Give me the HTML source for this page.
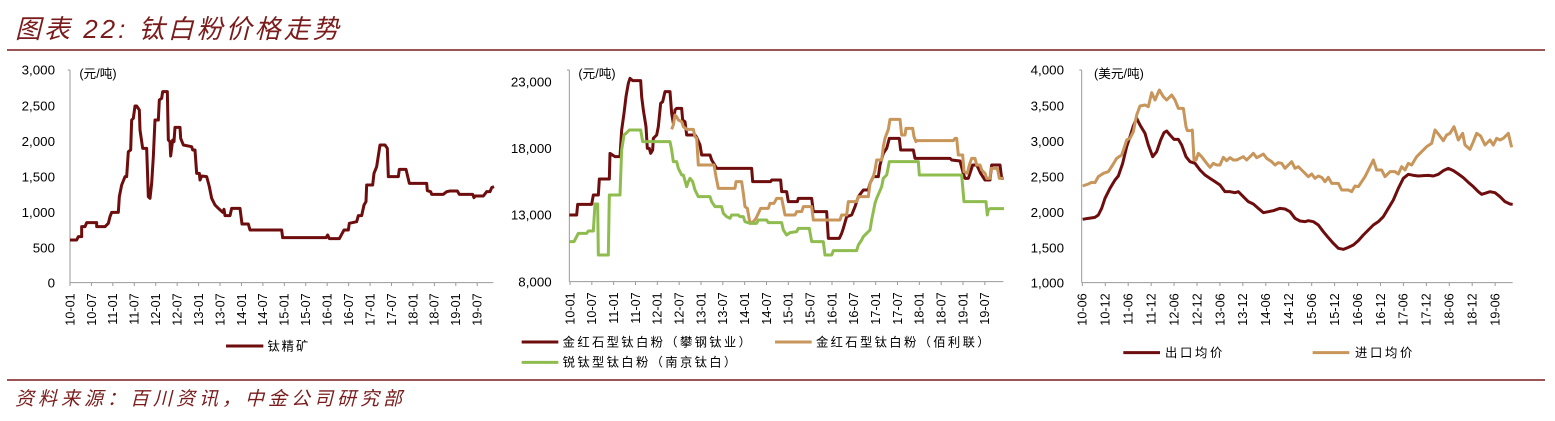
<!DOCTYPE html>
<html><head><meta charset="utf-8"><style>
html,body{margin:0;padding:0;background:#fff;}
svg{display:block;}
.t{font-family:"Liberation Sans","Noto Sans CJK SC",sans-serif;}
</style></head><body>
<svg id="s" width="1555" height="421" viewBox="0 0 1555 421" xmlns="http://www.w3.org/2000/svg">
<text x="15" y="38" font-size="26" font-style="italic" fill="#7b1c1c" class="t" letter-spacing="3">图表 22:  钛白粉价格走势</text>
<line x1="7" y1="50" x2="1545" y2="50" stroke="#7b1c1c" stroke-width="1.5"/>
<line x1="7" y1="380" x2="1545" y2="380" stroke="#7b1c1c" stroke-width="1.5"/>
<text x="15" y="405" font-size="19" font-style="italic" fill="#7b1c1c" class="t" letter-spacing="4">资料来源：百川资讯，中金公司研究部</text>

<g id="c1" transform="translate(0,50) scale(0.33333)"></g>
<g id="c2" transform="translate(510,50) scale(0.33333)"></g>
<g id="c3" transform="translate(1030,50) scale(0.33333)"></g>
</svg>
<script>
var NS="http://www.w3.org/2000/svg";
function el(g,tag,a,txt){var e=document.createElementNS(NS,tag);for(var k in a)e.setAttribute(k,a[k]);if(txt!==undefined)e.textContent=txt;g.appendChild(e);return e;}
function path(g,pts,col){var d="M"+pts.map(function(p){return p[0]+","+p[1]}).join(" L");el(g,"path",{d:d,fill:"none",stroke:col,"stroke-width":9,"stroke-linejoin":"round"});}
function axes(g,ax,x0,x1,ytop,ybot,ylabels,labx,t0,tstep,xlabels,unit,unitx){
 el(g,"line",{x1:ax,y1:ytop,x2:ax,y2:ybot,stroke:"#999","stroke-width":3});
 el(g,"line",{x1:ax,y1:ybot,x2:x1,y2:ybot,stroke:"#999","stroke-width":3});
 el(g,"line",{x1:ax-7,y1:ytop,x2:ax,y2:ytop,stroke:"#999","stroke-width":3});
 ylabels.forEach(function(l){el(g,"text",{x:labx,y:l[1]+14,"font-size":40,"text-anchor":"end","class":"t",fill:"#000"},l[0]);});
 xlabels.forEach(function(s,i){var x=t0+i*tstep;
  el(g,"line",{x1:x,y1:ybot,x2:x,y2:ybot+10,stroke:"#999","stroke-width":3});
  el(g,"text",{transform:"translate("+(x+13)+","+(ybot+32)+") rotate(-90)","font-size":38,"text-anchor":"end","class":"t",fill:"#000"},s);});
 el(g,"text",{x:unitx,y:ytop+24,"font-size":38,"class":"t",fill:"#000"},unit);
}
var DR="#6e0d0d",OR="#c8955a",GR="#8fbc4f";
var g1=document.getElementById("c1"),g2=document.getElementById("c2"),g3=document.getElementById("c3");
var xl1=[];for(var y=10;y<=19;y++){xl1.push(y+"-01");xl1.push(y+"-07");}
axes(g1,210,210,1480,60,698,[["3,000",60],["2,500",167],["2,000",274],["1,500",380],["1,000",487],["500",593],["0",698]],165,210,64.3,xl1,"(元/吨)",238);
path(g1,[[210,570],[230,570],[235,560],[245,560],[245,530],[255,530],[260,518],[290,518],[290,530],[315,530],[325,520],[330,500],[335,487],[355,487],[358,440],[365,405],[375,380],[380,380],[385,305],[392,300],[395,210],[400,205],[405,168],[410,168],[418,180],[420,240],[428,295],[440,295],[445,440],[450,445],[455,400],[460,320],[465,210],[475,210],[478,150],[485,145],[488,125],[502,125],[505,270],[510,275],[512,318],[518,270],[522,275],[525,232],[540,232],[542,265],[550,285],[575,290],[578,300],[585,300],[590,370],[598,370],[600,390],[605,378],[620,380],[628,410],[635,445],[645,465],[655,475],[668,487],[672,478],[675,497],[690,497],[695,475],[720,475],[726,522],[745,522],[750,540],[845,540],[848,563],[978,563],[983,555],[988,566],[1018,566],[1025,553],[1032,540],[1045,540],[1048,520],[1070,515],[1075,497],[1085,497],[1092,465],[1098,455],[1100,405],[1118,405],[1122,370],[1130,350],[1140,285],[1155,285],[1162,295],[1165,380],[1195,380],[1198,358],[1218,358],[1228,400],[1280,400],[1282,422],[1292,425],[1295,433],[1330,433],[1340,425],[1350,423],[1372,423],[1378,433],[1418,433],[1422,443],[1425,438],[1450,438],[1460,425],[1470,425],[1475,413],[1482,410]],DR);
el(g1,"line",{x1:678,y1:888,x2:790,y2:888,stroke:DR,"stroke-width":9});
el(g1,"text",{x:802,y:901,"font-size":37,"class":"t",fill:"#000","letter-spacing":6},"钛精矿");

axes(g2,178,178,1480,60,695,[["23,000",95],["18,000",295],["13,000",495],["8,000",695]],125,180,65.5,xl1,"(元/吨)",205);
path(g2,[[178,495],[200,495],[203,463],[245,463],[250,435],[265,435],[268,387],[298,387],[300,310],[315,320],[330,320],[335,240],[342,190],[348,140],[355,100],[360,85],[368,92],[392,92],[395,140],[400,180],[408,230],[412,295],[418,295],[422,310],[428,300],[430,265],[440,255],[445,230],[452,160],[458,155],[465,125],[480,125],[485,190],[490,220],[495,180],[500,175],[515,175],[518,210],[525,215],[530,255],[555,255],[560,262],[570,285],[575,315],[600,315],[605,330],[620,355],[725,355],[728,395],[782,395],[785,390],[812,390],[815,425],[830,425],[835,455],[862,455],[865,445],[905,445],[910,485],[950,485],[955,565],[988,565],[995,550],[1000,535],[1010,500],[1025,495],[1035,470],[1045,440],[1060,420],[1075,420],[1080,400],[1090,380],[1105,380],[1110,345],[1120,310],[1130,295],[1138,265],[1168,265],[1172,300],[1210,300],[1215,325],[1320,325],[1325,330],[1350,333],[1360,370],[1365,385],[1375,385],[1380,370],[1388,345],[1400,345],[1405,355],[1412,370],[1425,390],[1440,390],[1445,345],[1470,345],[1475,385],[1482,385]],DR);
path(g2,[[485,238],[490,225],[495,195],[500,200],[505,210],[515,215],[520,230],[530,238],[550,238],[555,260],[560,265],[565,345],[612,345],[618,380],[625,415],[675,415],[678,395],[695,395],[700,430],[705,470],[712,475],[720,520],[730,515],[738,505],[745,490],[752,475],[775,475],[780,460],[792,460],[800,445],[815,445],[820,470],[825,495],[855,495],[860,485],[875,485],[880,470],[905,470],[910,510],[990,510],[995,495],[1010,495],[1015,455],[1040,455],[1045,440],[1075,440],[1080,400],[1090,380],[1095,360],[1100,330],[1115,330],[1120,290],[1125,265],[1135,238],[1140,208],[1170,208],[1175,255],[1185,255],[1188,235],[1208,235],[1212,260],[1218,275],[1220,272],[1330,272],[1335,265],[1340,265],[1345,315],[1358,315],[1362,365],[1372,370],[1378,345],[1385,325],[1395,325],[1400,345],[1410,345],[1415,360],[1425,370],[1430,385],[1440,385],[1443,355],[1462,355],[1468,385],[1482,385]],OR);
path(g2,[[178,575],[192,575],[205,550],[230,550],[235,543],[250,543],[255,462],[263,462],[265,615],[295,615],[298,435],[330,435],[335,300],[342,255],[348,250],[358,240],[392,240],[398,275],[480,275],[485,300],[490,335],[500,335],[505,355],[515,375],[520,375],[530,410],[535,395],[540,385],[548,395],[555,420],[565,440],[600,440],[605,455],[615,470],[635,470],[640,490],[650,500],[660,505],[665,495],[685,495],[690,500],[700,500],[705,515],[720,520],[740,520],[745,510],[770,510],[775,518],[815,518],[820,540],[830,555],[840,548],[860,545],[865,535],[898,535],[905,575],[940,575],[945,615],[965,615],[970,602],[1040,602],[1045,585],[1055,570],[1060,560],[1070,550],[1080,540],[1085,510],[1095,460],[1100,445],[1115,410],[1120,385],[1130,375],[1138,335],[1225,335],[1228,375],[1355,375],[1362,455],[1428,455],[1432,495],[1435,480],[1440,476],[1482,476]],GR);
el(g2,"line",{x1:35,y1:876,x2:145,y2:876,stroke:DR,"stroke-width":9});
el(g2,"text",{x:158,y:889,"font-size":37,"class":"t",fill:"#000","letter-spacing":7},"金红石型钛白粉（攀钢钛业）");
el(g2,"line",{x1:795,y1:876,x2:905,y2:876,stroke:OR,"stroke-width":9});
el(g2,"text",{x:918,y:889,"font-size":37,"class":"t",fill:"#000","letter-spacing":7},"金红石型钛白粉（佰利联）");
el(g2,"line",{x1:35,y1:937,x2:145,y2:937,stroke:GR,"stroke-width":9});
el(g2,"text",{x:158,y:950,"font-size":37,"class":"t",fill:"#000","letter-spacing":7},"锐钛型钛白粉（南京钛白）");

var xl3=[];for(var y=10;y<=19;y++){xl3.push(y+"-06");xl3.push(y+"-12");}xl3.pop();
axes(g3,155,155,1448,60,698,[["4,000",60],["3,500",167],["3,000",274],["2,500",380],["2,000",487],["1,500",593],["1,000",698]],102,157,68.8,xl3,"(美元/吨)",192);
path(g3,[[158,508],[175,505],[195,502],[205,495],[215,475],[225,445],[240,415],[255,390],[265,378],[278,340],[290,290],[300,260],[310,228],[320,205],[330,225],[345,250],[355,285],[368,320],[380,305],[392,270],[402,248],[410,243],[420,255],[432,268],[445,268],[455,285],[468,320],[480,335],[495,340],[510,360],[525,375],[540,385],[555,395],[570,405],[585,425],[600,425],[615,428],[625,425],[640,440],[655,455],[670,462],[685,475],[700,488],[715,485],[730,482],[750,475],[765,477],[780,485],[795,505],[810,513],[825,515],[835,512],[850,515],[865,525],[880,545],[895,563],[910,580],[925,595],[940,598],[955,592],[970,585],[985,572],[1000,555],[1015,540],[1030,525],[1045,515],[1060,500],[1075,475],[1090,450],[1105,415],[1120,385],[1135,373],[1150,376],[1165,378],[1180,377],[1195,376],[1210,378],[1225,373],[1240,362],[1255,355],[1270,362],[1285,372],[1300,383],[1315,397],[1330,410],[1345,425],[1355,433],[1365,430],[1380,425],[1395,428],[1410,440],[1425,455],[1440,462],[1448,463]],DR);
path(g3,[[158,408],[175,402],[185,397],[195,398],[205,380],[220,370],[235,365],[248,345],[260,325],[275,315],[283,292],[290,270],[300,265],[310,245],[320,195],[330,168],[345,165],[355,170],[365,128],[375,150],[388,120],[400,140],[410,150],[420,140],[425,135],[435,150],[445,175],[455,175],[460,175],[468,230],[472,242],[482,242],[487,240],[492,330],[498,330],[505,310],[515,320],[530,340],[540,352],[550,340],[560,345],[570,345],[580,322],[590,332],[600,323],[610,330],[620,330],[630,325],[640,320],[650,330],[660,320],[670,310],[680,323],[690,318],[700,312],[710,325],[725,335],[735,345],[745,338],[755,340],[765,355],[775,345],[785,335],[795,355],[805,350],[815,360],[825,370],[835,380],[845,372],[855,385],[865,378],[875,382],[885,395],[895,382],[905,400],[915,400],[925,400],[935,420],[945,420],[955,420],[965,425],[975,408],[985,410],[995,395],[1005,380],[1015,360],[1030,330],[1040,360],[1055,360],[1065,380],[1080,365],[1095,365],[1105,372],[1115,350],[1125,360],[1135,340],[1145,345],[1160,320],[1175,305],[1190,290],[1205,280],[1215,240],[1225,252],[1240,272],[1250,255],[1260,250],[1272,230],[1285,270],[1298,250],[1305,285],[1320,298],[1330,275],[1340,250],[1352,258],[1365,285],[1380,270],[1390,285],[1400,265],[1410,270],[1420,265],[1435,250],[1445,292]],OR);
el(g3,"line",{x1:280,y1:908,x2:390,y2:908,stroke:DR,"stroke-width":9});
el(g3,"text",{x:405,y:921,"font-size":37,"class":"t",fill:"#000","letter-spacing":8},"出口均价");
el(g3,"line",{x1:848,y1:908,x2:958,y2:908,stroke:OR,"stroke-width":9});
el(g3,"text",{x:975,y:921,"font-size":37,"class":"t",fill:"#000","letter-spacing":8},"进口均价");
</script>
</body></html>
